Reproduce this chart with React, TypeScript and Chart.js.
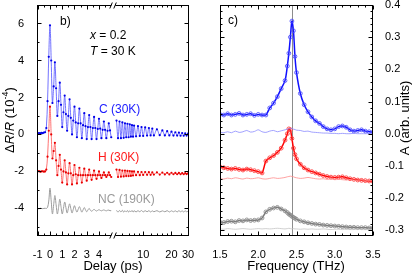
import React, { useEffect, useRef } from "react";
import { Chart, registerables } from "chart.js";
Chart.register(...registerables);

const FONT = '"Liberation Sans", Arial, Helvetica, sans-serif';

// ---------------- Panel b) : time-domain traces ----------------
const delayLin = [
  -1.0, -0.9, -0.8, -0.7, -0.6, -0.5, -0.4, -0.3, -0.2, -0.1,
  0.0, 0.1, 0.2, 0.3, 0.4, 0.5, 0.6, 0.7, 0.8, 0.9,
  1.0, 1.1, 1.2, 1.3, 1.4, 1.5, 1.6, 1.7, 1.8, 1.9,
  2.0, 2.1, 2.2, 2.3, 2.4, 2.5, 2.6, 2.7, 2.8, 2.9,
  3.0, 3.1, 3.2, 3.3, 3.4, 3.5, 3.6, 3.7, 3.8, 3.9,
  4.0, 4.1, 4.2, 4.3, 4.4, 4.5, 4.6, 4.7, 4.8, 4.9, 5.0,
];
const cLin = [
  0.05, 0.08, 0.06, 0.09, 0.07, 0.1, 0.12, 0.35, 1.8, 4.2,
  5.9, 4.0, 1.7, 2.6, 3.9, 2.5, 1.0, 1.8, 2.8, 1.6,
  0.4, 1.2, 2.1, 1.1, 0.2, 1.0, 1.9, 0.9, 0.0, 0.75,
  1.5, 0.65, -0.15, 0.6, 1.4, 0.6, -0.2, 0.5, 1.15, 0.45,
  -0.25, 0.4, 1.05, 0.4, -0.25, 0.35, 0.95, 0.35, -0.25, 0.3,
  0.85, 0.32, -0.2, 0.25, 0.7, 0.25, -0.2, 0.2, 0.6, 0.22, -0.15,
];
const hLin = [
  -2.0, -1.98, -2.02, -2.0, -1.99, -2.01, -2.0, -1.9, -1.2, 0.2,
  1.5, 0.0, -1.3, -0.9, -0.45, -1.4, -2.2, -1.7, -1.1, -1.9,
  -2.6, -2.0, -1.4, -2.05, -2.7, -2.1, -1.55, -2.1, -2.7, -2.2,
  -1.65, -2.15, -2.65, -2.2, -1.8, -2.2, -2.6, -2.2, -1.85, -2.2,
  -2.5, -2.2, -1.9, -2.2, -2.45, -2.2, -1.95, -2.2, -2.4, -2.2,
  -2.0, -2.2, -2.35, -2.2, -2.05, -2.2, -2.3, -2.2, -2.05, -2.2, -2.3,
];
const ncLin = [
  -4.0, -4.02, -3.99, -4.0, -4.01, -4.0, -3.99, -4.0, -3.95, -3.6,
  -2.9, -3.6, -4.3, -3.8, -3.3, -3.8, -4.3, -3.95, -3.5, -3.9,
  -4.3, -4.0, -3.65, -3.95, -4.25, -4.0, -3.75, -4.0, -4.25, -4.05,
  -3.85, -4.05, -4.2, -4.05, -3.9, -4.05, -4.2, -4.08, -3.95, -4.08,
  -4.18, -4.08, -4.0, -4.1, -4.15, -4.1, -4.05, -4.1, -4.14, -4.1,
  -4.07, -4.1, -4.13, -4.1, -4.08, -4.11, -4.13, -4.1, -4.09, -4.12, -4.12,
];
const delayLog = [
  5.2, 5.4, 5.6, 5.8, 6.0, 6.2, 6.4, 6.6, 6.8, 7.0, 7.2, 7.4, 7.6, 7.8, 8.0,
  8.4, 8.8, 9.2, 9.6, 10, 10.5, 11, 11.5, 12, 12.5, 13,
  14, 15, 16, 17, 18, 19, 20, 21, 22, 23, 24, 25, 26, 27, 28, 29, 30,
];
const cLog = [
  0.75, -0.2, 0.7, -0.2, 0.65, -0.18, 0.6, -0.15, 0.58, -0.15, 0.55, -0.12, 0.5, -0.12, 0.48,
  -0.1, 0.45, -0.08, 0.4, -0.08, 0.38, -0.06, 0.35, -0.05, 0.32, -0.05,
  0.28, -0.04, 0.22, -0.05, 0.18, -0.05, 0.15, -0.06, 0.12, -0.06, 0.1, -0.07, 0.08, -0.07, 0.06, -0.06, 0.04,
];
const hLog = [
  -1.9, -2.3, -1.92, -2.28, -1.95, -2.27, -1.95, -2.25, -1.97, -2.25, -1.98, -2.24, -2.0, -2.22, -2.0,
  -2.2, -2.02, -2.2, -2.03, -2.19, -2.03, -2.18, -2.04, -2.18, -2.05, -2.17,
  -2.05, -2.17, -2.06, -2.16, -2.07, -2.16, -2.07, -2.15, -2.08, -2.15, -2.08, -2.15, -2.09, -2.15, -2.09, -2.14, -2.1,
];
const ncLog = [
  -4.1, -4.2, -4.11, -4.19, -4.1, -4.2, -4.12, -4.19, -4.11, -4.2, -4.12, -4.18, -4.11, -4.2, -4.12,
  -4.19, -4.12, -4.18, -4.11, -4.19, -4.12, -4.18, -4.12, -4.19, -4.13, -4.18,
  -4.12, -4.19, -4.13, -4.18, -4.12, -4.19, -4.13, -4.18, -4.13, -4.19, -4.12, -4.18, -4.13, -4.19, -4.13, -4.18, -4.15,
];
const delayTickLabels = [-1, 0, 1, 2, 3, 4, 10, 20, 30];
const delayMinorTicks = [-0.5, 0.5, 1.5, 2.5, 3.5, 4.5, 6, 7, 8, 9, 12, 14, 16, 18, 25];
const signalTicks = [-4, -2, 0, 2, 4, 6];
const signalMinorTicks = [-5, -3, -1, 1, 3, 5];

// ---------------- Panel c) : amplitude spectra ----------------
const freq = [
  1.5, 1.55, 1.6, 1.65, 1.7, 1.75, 1.8, 1.85, 1.9, 1.95, 2.0, 2.05,
  2.1, 2.15, 2.2, 2.25, 2.3, 2.35,
  2.38, 2.4, 2.42, 2.44, 2.46, 2.48,
  2.5, 2.55, 2.6, 2.65, 2.7, 2.75, 2.8, 2.85, 2.9, 2.95, 3.0, 3.05, 3.1, 3.15, 3.2, 3.25, 3.3, 3.35, 3.4, 3.45, 3.5,
];
const ampC = [
  0.06, 0.058, 0.062, 0.058, 0.06, 0.063, 0.058, 0.06, 0.062, 0.057, 0.06, 0.058,
  0.058, 0.08, 0.095, 0.115, 0.14, 0.165,
  0.21, 0.25, 0.3, 0.35, 0.32, 0.24,
  0.19, 0.125, 0.09, 0.068, 0.052, 0.04, 0.032, 0.022, 0.015, 0.012, 0.015, 0.022, 0.024, 0.02, 0.012, 0.008, 0.01, 0.012, 0.008, 0.006, 0.005,
];
const ampCRef = [
  0.004, 0.003, 0.006, 0.003, 0.008, 0.004, 0.006, 0.01, 0.005, 0.007, 0.012, 0.006,
  0.004, 0.008, 0.01, 0.006, 0.009, 0.012,
  0.014, 0.016, 0.015, 0.017, 0.014, 0.013,
  0.011, 0.01, 0.007, 0.008, 0.005, 0.004, 0.003, 0.002, 0.002, 0.001, 0.001, 0.0, 0.001, 0.0, 0.0, 0.001, 0.0, 0.0, 0.0, 0.0, 0.0,
];
const ampH = [
  -0.103, -0.106, -0.108, -0.11, -0.108, -0.111, -0.113, -0.11, -0.112, -0.115, -0.118, -0.122,
  -0.085, -0.075, -0.068, -0.058, -0.045, -0.02,
  0.0, 0.015, 0.012, -0.015, -0.045, -0.065,
  -0.078, -0.095, -0.106, -0.113, -0.118, -0.122, -0.126, -0.13, -0.133, -0.135, -0.136, -0.135, -0.134, -0.137, -0.14, -0.142, -0.144, -0.145, -0.146, -0.147, -0.148,
];
const ampHRef = [
  -0.14, -0.141, -0.138, -0.14, -0.137, -0.139, -0.141, -0.138, -0.14, -0.139, -0.137, -0.14,
  -0.141, -0.139, -0.137, -0.139, -0.138, -0.136,
  -0.134, -0.133, -0.132, -0.133, -0.134, -0.136,
  -0.137, -0.139, -0.138, -0.136, -0.138, -0.14, -0.141, -0.14, -0.142, -0.141, -0.143, -0.142, -0.143, -0.144, -0.143, -0.144, -0.145, -0.144, -0.145, -0.146, -0.146,
];
const ampNC = [
  -0.275, -0.276, -0.273, -0.272, -0.274, -0.27, -0.271, -0.268, -0.27, -0.269, -0.268, -0.262,
  -0.243, -0.235, -0.231, -0.229, -0.234, -0.24,
  -0.245, -0.25, -0.253, -0.257, -0.26, -0.263,
  -0.266, -0.271, -0.274, -0.277, -0.279, -0.281, -0.282, -0.284, -0.285, -0.286, -0.287, -0.288, -0.289, -0.29, -0.291, -0.291, -0.292, -0.292, -0.292, -0.293, -0.293,
];
const ampNCRef = [
  -0.296, -0.297, -0.295, -0.296, -0.297, -0.296, -0.295, -0.296, -0.297, -0.296, -0.295, -0.296,
  -0.295, -0.296, -0.295, -0.294, -0.295, -0.296,
  -0.295, -0.294, -0.295, -0.296, -0.295, -0.296,
  -0.296, -0.297, -0.296, -0.297, -0.296, -0.297, -0.297, -0.296, -0.297, -0.298, -0.297, -0.297, -0.298, -0.297, -0.298, -0.298, -0.297, -0.298, -0.298, -0.298, -0.298,
];
const freqTicks = [1.5, 2.0, 2.5, 3.0, 3.5];
const ampTicks = [-0.3, -0.2, -0.1, 0.0, 0.1, 0.2, 0.3, 0.4];
const peakFreq = 2.44;

// ---------------- broken delay axis (linear to 5 ps, log beyond) ----------------
const BREAK_T = 5;
const LOG_START_U = 5.3;
const U_PER_DECADE = 7.67;
const toU = (t: number) =>
  t <= BREAK_T ? t : LOG_START_U + U_PER_DECADE * Math.log10(t / BREAK_T);

type Part = { s: string; it?: boolean; sup?: boolean };
type Label = {
  parts: Part[];
  x: number;
  y: number;
  size: number;
  color: string;
  rot?: boolean;
  align?: "left" | "center";
};

function drawRich(ctx: CanvasRenderingContext2D, l: Label) {
  ctx.save();
  ctx.translate(l.x, l.y);
  if (l.rot) ctx.rotate(-Math.PI / 2);
  ctx.fillStyle = l.color;
  ctx.textBaseline = "middle";
  ctx.textAlign = "left";
  const fontFor = (p: Part) =>
    `${p.it ? "italic " : ""}${p.sup ? Math.round(l.size * 0.7) : l.size}px ${FONT}`;
  let total = 0;
  const widths = l.parts.map((p) => {
    ctx.font = fontFor(p);
    const w = ctx.measureText(p.s).width;
    total += w;
    return w;
  });
  let cx = l.align === "center" ? -total / 2 : 0;
  l.parts.forEach((p, i) => {
    ctx.font = fontFor(p);
    ctx.fillText(p.s, cx, p.sup ? -l.size * 0.35 : 0);
    cx += widths[i];
  });
  ctx.restore();
}

const deco = {
  id: "deco",
  beforeDatasetsDraw(chart: any, _a: any, o: any) {
    if (o.vline == null) return;
    const { ctx, chartArea: a } = chart;
    const x = Math.round(chart.scales.x.getPixelForValue(o.vline)) + 0.5;
    ctx.save();
    ctx.strokeStyle = "#8c8c8c";
    ctx.lineWidth = 1;
    ctx.beginPath();
    ctx.moveTo(x, a.top);
    ctx.lineTo(x, a.bottom);
    ctx.stroke();
    ctx.restore();
  },
  afterDatasetsDraw(chart: any, _a: any, o: any) {
    const { ctx, chartArea: a } = chart;
    const xs = chart.scales.x;
    const ys = chart.scales.y;
    const L = Math.round(a.left) + 0.5;
    const R = Math.round(a.right) - 0.5;
    const T = Math.round(a.top) + 0.5;
    const B = Math.round(a.bottom) - 0.5;
    ctx.save();
    ctx.strokeStyle = "#000";
    ctx.lineWidth = 1;
    ctx.beginPath();
    const xt = (vals: number[], len: number) =>
      vals.forEach((v) => {
        if (v < xs.min || v > xs.max) return;
        const p = Math.round(xs.getPixelForValue(v)) + 0.5;
        ctx.moveTo(p, B);
        ctx.lineTo(p, B - len);
        ctx.moveTo(p, T);
        ctx.lineTo(p, T + len);
      });
    const yt = (vals: number[], len: number) =>
      vals.forEach((v) => {
        if (v < ys.min || v > ys.max) return;
        const p = Math.round(ys.getPixelForValue(v)) + 0.5;
        ctx.moveTo(L, p);
        ctx.lineTo(L + len, p);
        ctx.moveTo(R, p);
        ctx.lineTo(R - len, p);
      });
    xt(o.xMajor, 4);
    xt(o.xMinor, 2);
    yt(o.yMajor, 4);
    yt(o.yMinor, 2);
    ctx.stroke();
    ctx.strokeRect(L, T, R - L, B - T);
    if (o.breakAt != null) {
      const p = xs.getPixelForValue(o.breakAt);
      [T, B].forEach((y) => {
        ctx.fillStyle = "#fff";
        ctx.fillRect(p - 2, y - 1.5, 4, 3);
        ctx.beginPath();
        ctx.moveTo(p - 3.5, y + 3);
        ctx.lineTo(p - 1, y - 3);
        ctx.moveTo(p + 0.5, y + 3);
        ctx.lineTo(p + 3, y - 3);
        ctx.stroke();
      });
    }
    (o.labels || []).forEach((l: Label) => drawRich(ctx, l));
    ctx.restore();
  },
};

const tickFont = { family: FONT, size: 11 };

function buildLeft(canvas: HTMLCanvasElement) {
  const seg = (times: number[], vals: number[]) =>
    times.map((t, i) => ({ x: toU(t), y: vals[i] }));
  const joined = (lin: number[], log: number[]) => [
    ...seg(delayLin, lin),
    { x: toU(BREAK_T) + 0.15, y: null },
    ...seg(delayLog, log),
  ];
  const trace = (data: any[], line: string, dot: string, r: number) => ({
    data,
    borderColor: line,
    borderWidth: 1,
    pointRadius: r,
    pointBackgroundColor: dot,
    pointBorderWidth: 0,
    tension: 0.35,
    spanGaps: false,
  });
  return new Chart(canvas, {
    type: "line",
    data: {
      datasets: [
        trace(joined(ncLin, ncLog), "#9c9c9c", "#9c9c9c", 0),
        trace(joined(hLin, hLog), "rgba(255,90,90,0.85)", "#e80000", 1.1),
        trace(joined(cLin, cLog), "rgba(90,90,255,0.85)", "#0000e8", 1.1),
      ] as any,
    },
    options: {
      animation: false,
      responsive: false,
      events: [],
      layout: { padding: { top: 5, right: 11, left: 0, bottom: 0 } },
      plugins: {
        legend: { display: false },
        tooltip: { enabled: false },
        deco: {
          xMajor: delayTickLabels.map(toU),
          xMinor: delayMinorTicks.map(toU),
          yMajor: signalTicks,
          yMinor: signalMinorTicks,
          breakAt: toU(BREAK_T) + 0.17,
          labels: [
            { parts: [{ s: "b)" }], x: 60, y: 22, size: 12, color: "#000" },
            { parts: [{ s: "x", it: true }, { s: " = 0.2" }], x: 90, y: 36, size: 12, color: "#000" },
            { parts: [{ s: "T", it: true }, { s: " = 30 K" }], x: 90, y: 52, size: 12, color: "#000" },
            { parts: [{ s: "C (30K)" }], x: 99, y: 110, size: 12, color: "#1a1aff" },
            { parts: [{ s: "H (30K)" }], x: 98, y: 158, size: 12, color: "#ff1a1a" },
            { parts: [{ s: "NC (190K)" }], x: 98, y: 200, size: 12, color: "#9a9a9a" },
            {
              parts: [
                { s: "\u0394" },
                { s: "R", it: true },
                { s: "/" },
                { s: "R", it: true },
                { s: " (10" },
                { s: "-4", sup: true },
                { s: ")" },
              ],
              x: 10, y: 120, size: 13, color: "#000", rot: true, align: "center",
            },
            { parts: [{ s: "Delay (ps)" }], x: 113, y: 266, size: 13, color: "#000", align: "center" },
          ],
        },
      } as any,
      scales: {
        x: {
          type: "linear",
          min: -1.06,
          max: 11.35,
          grid: { display: false },
          border: { display: false },
          afterBuildTicks: (s: any) => {
            s.ticks = delayTickLabels.map((t) => ({ value: toU(t) }));
          },
          afterFit: (s: any) => {
            s.height = 38;
            s.paddingLeft = 0;
            s.paddingRight = 0;
          },
          ticks: {
            autoSkip: false,
            maxRotation: 0,
            padding: 4,
            color: "#000",
            font: tickFont,
            callback: (_v: any, i: number) => String(delayTickLabels[i]),
          },
        },
        y: {
          type: "linear",
          min: -5.49,
          max: 7.0,
          grid: { display: false },
          border: { display: false },
          afterBuildTicks: (s: any) => {
            s.ticks = signalTicks.map((v) => ({ value: v }));
          },
          afterFit: (s: any) => {
            s.width = 37;
            s.paddingTop = 0;
            s.paddingBottom = 0;
          },
          ticks: {
            autoSkip: false,
            padding: 5,
            color: "#000",
            font: tickFont,
            callback: (v: any) => String(v),
          },
        },
      } as any,
    },
    plugins: [deco],
  } as any);
}

function buildRight(canvas: HTMLCanvasElement) {
  const pts = (vals: number[]) => freq.map((f, i) => ({ x: f, y: vals[i] }));
  const thin = (vals: number[], color: string) => ({
    data: pts(vals),
    borderColor: color,
    borderWidth: 0.8,
    pointRadius: 0,
    tension: 0.3,
  });
  const main = (vals: number[], line: string, ring: string) => ({
    data: pts(vals),
    borderColor: line,
    borderWidth: 1.5,
    pointRadius: 1.9,
    pointStyle: "circle",
    pointBackgroundColor: "rgba(255,255,255,0)",
    pointBorderColor: ring,
    pointBorderWidth: 0.9,
    tension: 0.3,
  });
  const yMinor: number[] = [];
  for (let k = -16; k <= 20; k++) if (k % 5 !== 0) yMinor.push(k * 0.02);
  const xMinor: number[] = [];
  for (let k = 15; k <= 35; k++) if (k % 5 !== 0) xMinor.push(k / 10);
  return new Chart(canvas, {
    type: "line",
    data: {
      datasets: [
        thin(ampNCRef, "#c4c4c4"),
        thin(ampHRef, "#ff8a8a"),
        thin(ampCRef, "#8a8aff"),
        main(ampNC, "#7a7a7a", "#8c8c8c"),
        main(ampH, "#ff0000", "#ff4040"),
        main(ampC, "#1010ff", "#5050ff"),
      ] as any,
    },
    options: {
      animation: false,
      responsive: false,
      events: [],
      layout: { padding: { top: 5, right: 0, left: 20, bottom: 0 } },
      plugins: {
        legend: { display: false },
        tooltip: { enabled: false },
        deco: {
          vline: peakFreq,
          xMajor: freqTicks,
          xMinor,
          yMajor: ampTicks,
          yMinor,
          labels: [
            { parts: [{ s: "c)" }], x: 28, y: 21, size: 12, color: "#000" },
            { parts: [{ s: "Frequency (THz)" }], x: 96, y: 266, size: 13, color: "#000", align: "center" },
            { parts: [{ s: "A (arb. units)" }], x: 205, y: 118, size: 13, color: "#000", rot: true, align: "center" },
          ],
        },
      } as any,
      scales: {
        x: {
          type: "linear",
          min: 1.5,
          max: 3.5,
          grid: { display: false },
          border: { display: false },
          afterBuildTicks: (s: any) => {
            s.ticks = freqTicks.map((v) => ({ value: v }));
          },
          afterFit: (s: any) => {
            s.height = 38;
            s.paddingLeft = 0;
            s.paddingRight = 0;
          },
          ticks: {
            autoSkip: false,
            maxRotation: 0,
            padding: 4,
            color: "#000",
            font: tickFont,
            callback: (v: any) => Number(v).toFixed(1),
          },
        },
        y: {
          type: "linear",
          position: "right",
          min: -0.318,
          max: 0.4,
          grid: { display: false },
          border: { display: false },
          afterBuildTicks: (s: any) => {
            s.ticks = ampTicks.map((v) => ({ value: v }));
          },
          afterFit: (s: any) => {
            s.width = 42;
            s.paddingTop = 0;
            s.paddingBottom = 0;
          },
          ticks: {
            autoSkip: false,
            padding: 4,
            color: "#000",
            font: tickFont,
            callback: (v: any) => Number(v).toFixed(1),
          },
        },
      } as any,
    },
    plugins: [deco],
  } as any);
}

export default function App() {
  const leftRef = useRef<HTMLCanvasElement | null>(null);
  const rightRef = useRef<HTMLCanvasElement | null>(null);
  useEffect(() => {
    const a = buildLeft(leftRef.current!);
    const b = buildRight(rightRef.current!);
    return () => {
      a.destroy();
      b.destroy();
    };
  }, []);
  return (
    <div
      style={{
        position: "absolute",
        left: 0,
        top: 0,
        width: 415,
        height: 274,
        background: "#fff",
        overflow: "hidden",
      }}
    >
      <canvas
        ref={leftRef}
        width={200}
        height={274}
        style={{ position: "absolute", left: 0, top: 0, width: 200, height: 274 }}
      />
      <canvas
        ref={rightRef}
        width={215}
        height={274}
        style={{ position: "absolute", left: 200, top: 0, width: 215, height: 274 }}
      />
    </div>
  );
}
